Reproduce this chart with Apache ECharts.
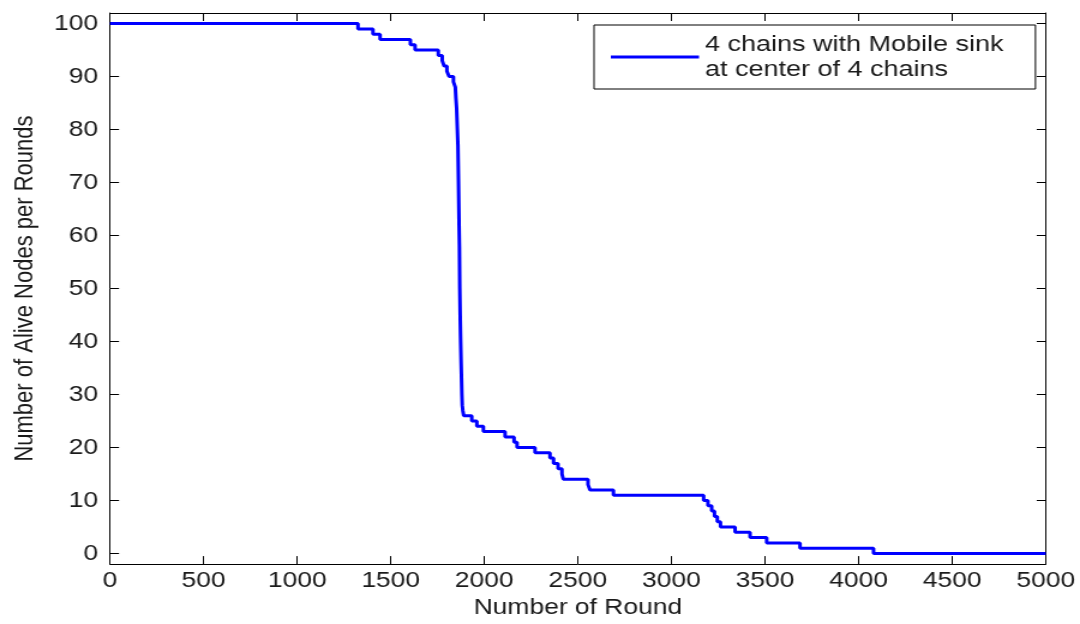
<!DOCTYPE html>
<html>
<head>
<meta charset="utf-8">
<script src="https://cdn.jsdelivr.net/npm/echarts@6/dist/echarts.min.js"></script>
<style>
html,body{margin:0;padding:0;background:#fff;overflow:hidden;width:1080px;height:624px;}
#chart{width:900px;height:624px;transform:scaleX(1.2);transform-origin:0 0;}
</style>
</head>
<body>
<div id="chart"></div>
<script>
// Number of Round (x) at which the alive-node count changes, and the count from then on
var rounds = [0, 1325, 1405, 1443, 1605, 1630, 1754, 1775, 1785, 1800, 1812, 1835, 1845, 1848, 1852, 1856, 1859, 1862, 1865, 1867, 1869, 1871, 1873, 1876, 1878, 1880, 1882, 1885, 1890, 1933, 1960, 1995, 2111, 2159, 2175, 2271, 2351, 2370, 2394, 2415, 2422, 2554, 2565, 2690, 3172, 3195, 3215, 3230, 3245, 3262, 3340, 3420, 3509, 3687, 4080, 5000];
var alive  = [100, 99, 98, 97, 96, 95, 94, 93, 92, 91, 90, 89, 88, 86, 84, 80, 77, 70, 62, 58, 50, 45, 41, 36, 33, 30, 28, 27, 26, 25, 24, 23, 22, 21, 20, 19, 18, 17, 16, 15, 14, 13, 12, 11, 10, 9, 8, 7, 6, 5, 4, 3, 2, 1, 0, 0];
var xTicks = [0, 500, 1000, 1500, 2000, 2500, 3000, 3500, 4000, 4500, 5000];
var yTicks = [0, 10, 20, 30, 40, 50, 60, 70, 80, 90, 100];
var seriesName = '4 chains with Mobile sink\nat center of 4 chains';

var font = "'Liberation Sans', Arial, sans-serif";
var data = rounds.map(function (r, i) { return [r, alive[i]]; });
function plain(v) { return String(v); }

var axisLineStyle = { show: true, onZero: false, lineStyle: { color: '#000', width: 1 } };
function xAxisCfg(pos, labels) {
  return {
    type: 'value', position: pos, min: 0, max: 5000, interval: 500,
    axisLine: axisLineStyle,
    axisTick: { show: true, inside: true, length: 8, lineStyle: { color: '#000', width: 1 } },
    axisLabel: { show: labels, color: '#1a1a1a', fontSize: 22, fontFamily: font, margin: 6,
                 customValues: xTicks, formatter: plain },
    splitLine: { show: false }
  };
}
function yAxisCfg(pos, labels) {
  return {
    type: 'value', position: pos, min: -2, max: 102,
    axisLine: axisLineStyle,
    axisTick: { show: true, inside: true, length: 7.5, lineStyle: { color: '#000', width: 1 },
                customValues: yTicks },
    axisLabel: { show: labels, color: '#1a1a1a', fontSize: 22, fontFamily: font, margin: 10,
                 customValues: yTicks, formatter: plain },
    splitLine: { show: false }
  };
}

var xb = xAxisCfg('bottom', true);
xb.name = 'Number of Round';
xb.nameLocation = 'middle';
xb.nameGap = 31;
xb.nameTextStyle = { color: '#1a1a1a', fontSize: 22, fontFamily: font };
var xt = xAxisCfg('top', false);

var yl = yAxisCfg('left', true);
yl.name = 'Number of Alive Nodes per Rounds';
yl.nameLocation = 'middle';
yl.nameGap = 60;
yl.nameTextStyle = { color: '#1a1a1a', fontSize: 22, fontFamily: font };
var yr = yAxisCfg('right', false);

var chart = echarts.init(document.getElementById('chart'));
chart.setOption({
  animation: false,
  backgroundColor: '#fff',
  grid: { left: 91.7, right: 28.6, top: 13, bottom: 58, containLabel: false },
  legend: {
    left: 495, top: 25, orient: 'vertical',
    icon: 'rect', itemWidth: 73.5, itemHeight: 3,
    itemStyle: { color: '#0000ff', borderWidth: 0 },
    padding: [4, 26.5, 4, 14],
    backgroundColor: '#fff', borderColor: '#000', borderWidth: 1,
    textStyle: { color: '#1a1a1a', fontSize: 22.5, fontFamily: font, lineHeight: 25, padding: [6, 0, 0, 0] },
    data: [seriesName]
  },
  xAxis: [xb, xt],
  yAxis: [yl, yr],
  series: [{
    name: seriesName, type: 'line', step: 'end', data: data,
    xAxisIndex: 0, yAxisIndex: 0,
    symbol: 'none', showSymbol: false,
    lineStyle: { color: '#0000ff', width: 3 },
    itemStyle: { color: '#0000ff' }
  }]
});
</script>
</body>
</html>
